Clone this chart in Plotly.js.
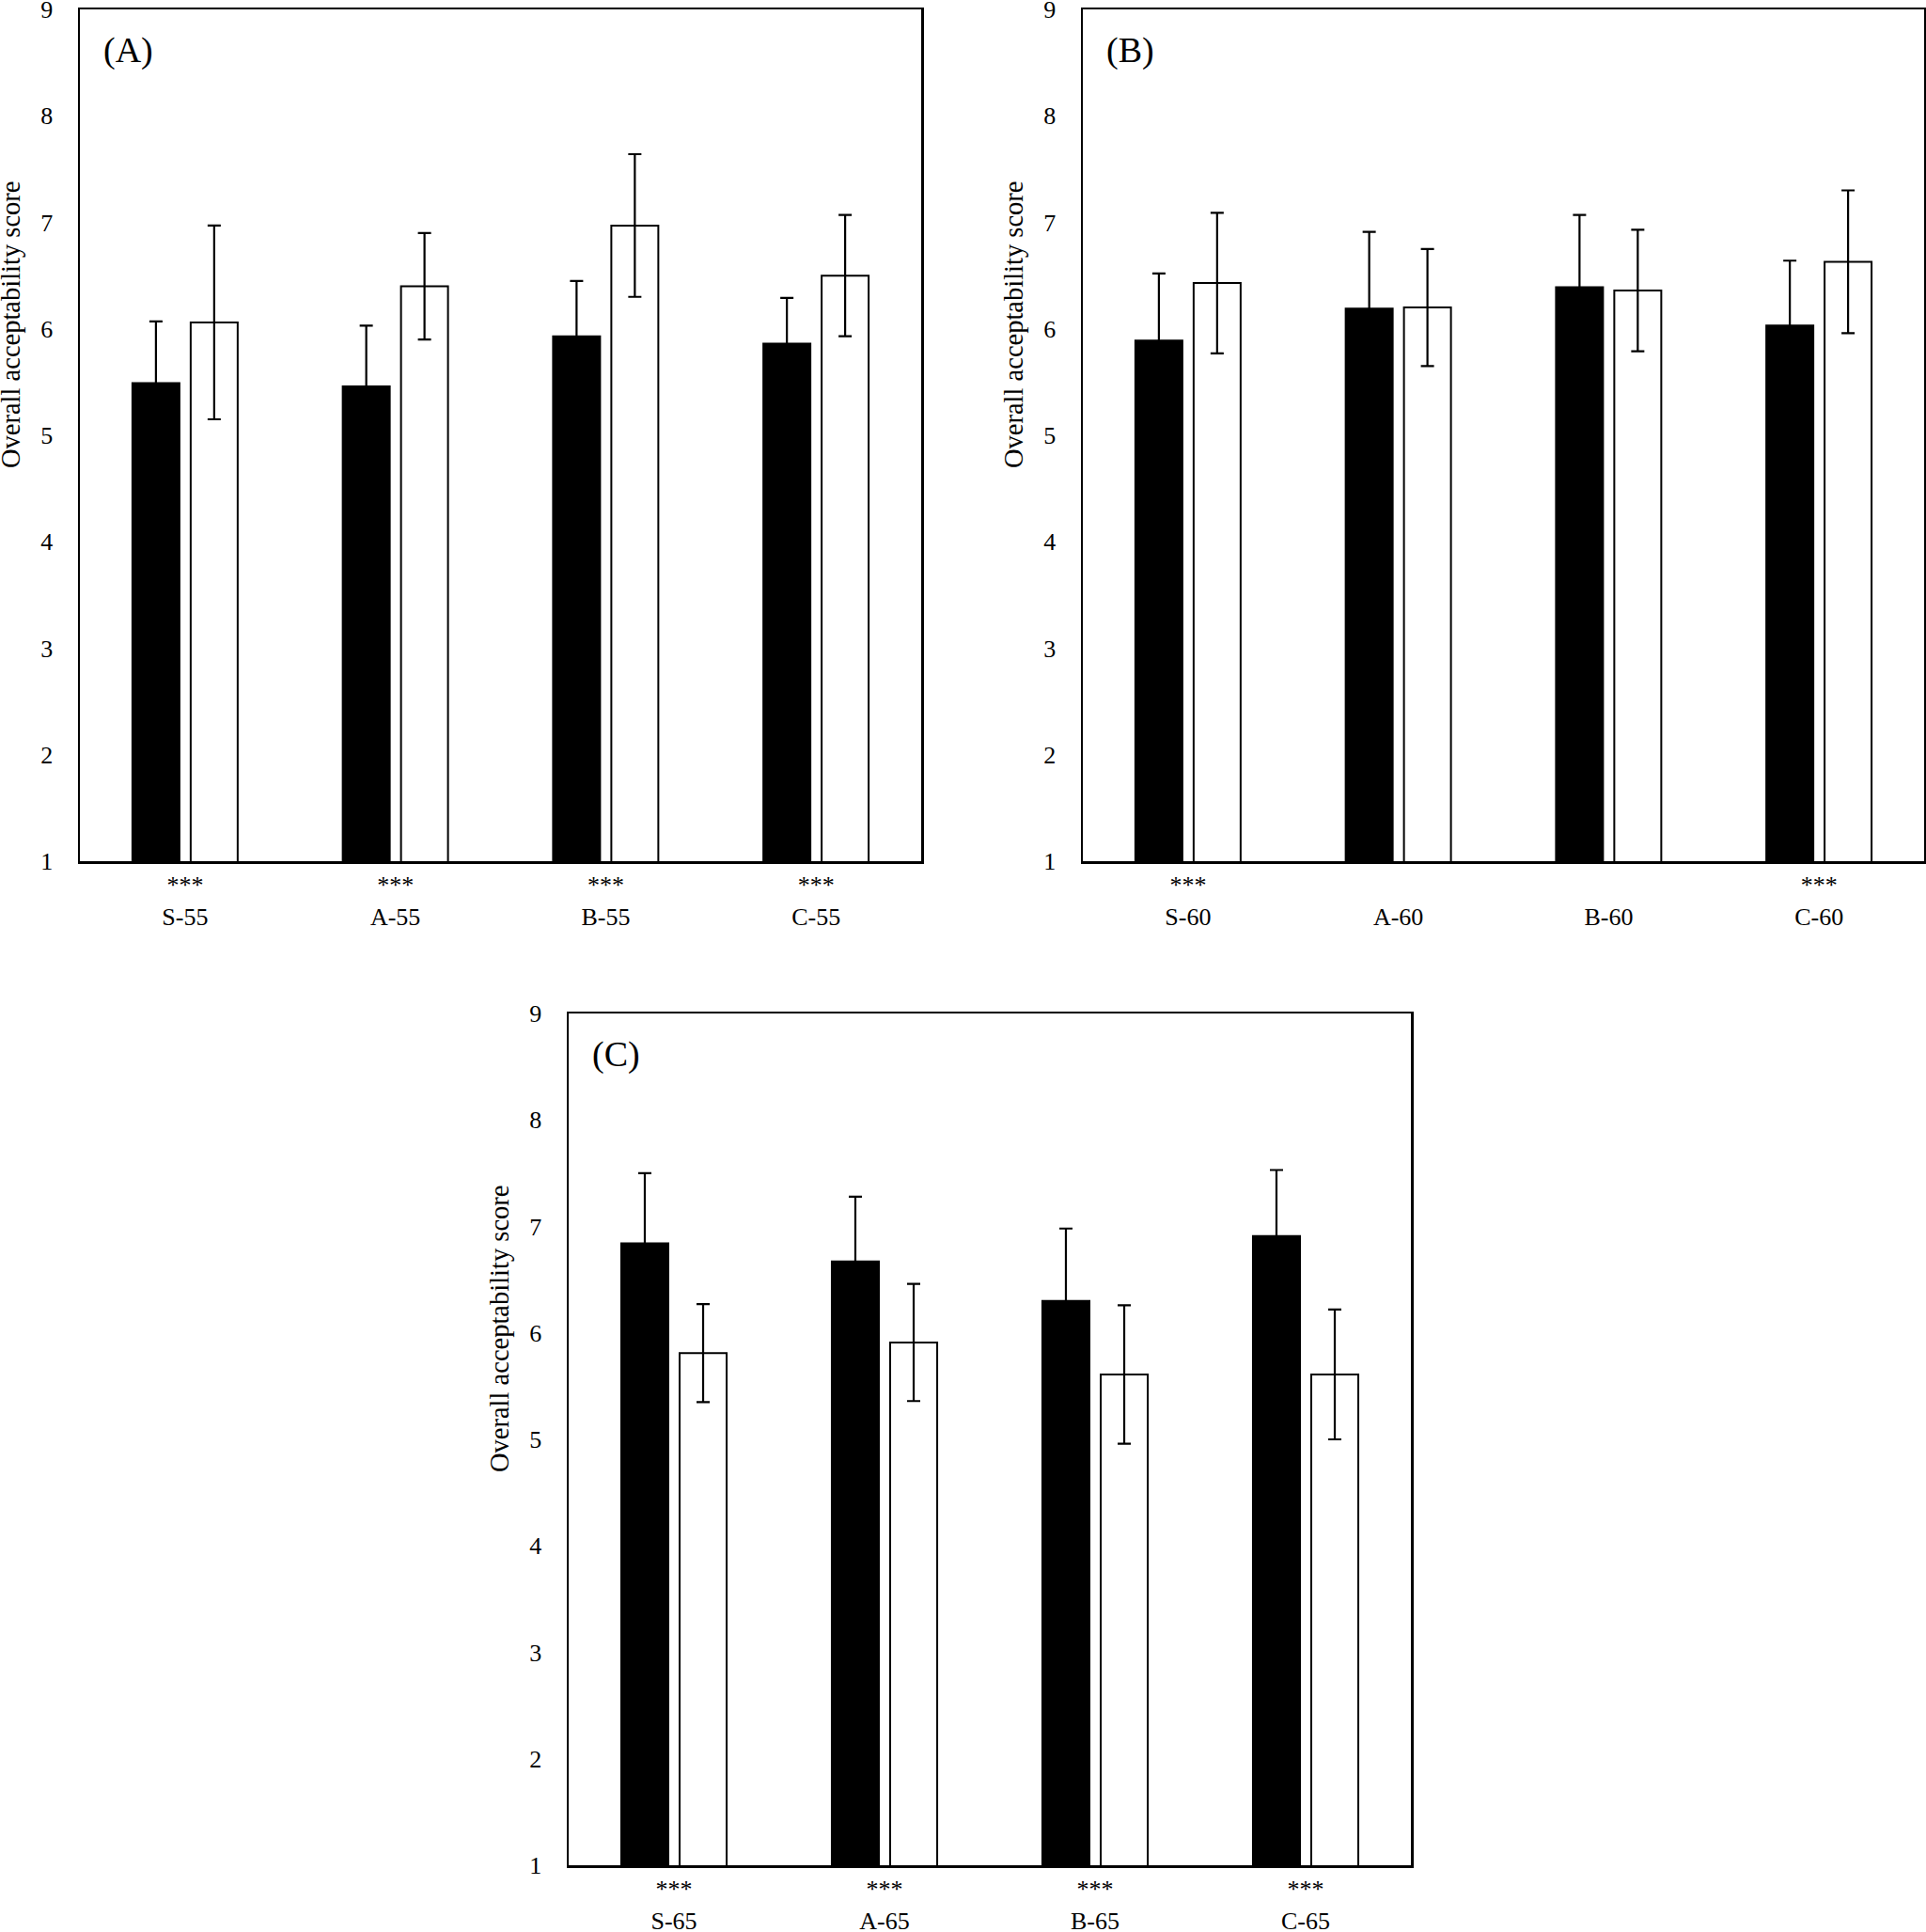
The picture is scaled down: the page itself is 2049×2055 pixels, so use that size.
<!DOCTYPE html>
<html>
<head>
<meta charset="utf-8">
<script src="https://cdn.plot.ly/plotly-3.0.1.min.js"></script>
<style>
  html, body { margin: 0; padding: 0; background: #fff; }
  #chart { width: 2049px; height: 2055px; }
</style>
</head>
<body>
<div id="chart"></div>
<script>
// Sample groups per panel
const categoriesA = ['S-55', 'A-55', 'B-55', 'C-55'];
const categoriesB = ['S-60', 'A-60', 'B-60', 'C-60'];
const categoriesC = ['S-65', 'A-65', 'B-65', 'C-65'];

// Significance markers shown above each group label
const sigA = ['***', '***', '***', '***'];
const sigB = ['***', '', '', '***'];
const sigC = ['***', '***', '***', '***'];

// Mean overall acceptability scores (filled bars) and standard deviations
const blackA = [5.49, 5.46, 5.93, 5.86];
const blackErrA = [0.58, 0.57, 0.52, 0.43];
const blackB = [5.89, 6.19, 6.39, 6.03];
const blackErrB = [0.63, 0.72, 0.68, 0.61];
const blackC = [6.84, 6.67, 6.30, 6.91];
const blackErrC = [0.66, 0.61, 0.68, 0.62];

// Mean overall acceptability scores (open bars) and standard deviations
const whiteA = [6.06, 6.40, 6.97, 6.50];
const whiteErrA = [0.91, 0.50, 0.67, 0.57];
const whiteB = [6.43, 6.20, 6.36, 6.63];
const whiteErrB = [0.66, 0.55, 0.57, 0.67];
const whiteC = [5.81, 5.91, 5.61, 5.61];
const whiteErrC = [0.46, 0.55, 0.65, 0.61];

const panelLabels = ['(A)', '(B)', '(C)'];
const yTitle = 'Overall acceptability score';
const yTicks = [1, 2, 3, 4, 5, 6, 7, 8, 9];

const FONT = 'Liberation Serif, Times New Roman, serif';
const W = 2049, H = 2055;

// Plot-area boxes in pixels: [left, right, top, bottom]
const boxes = [
  [85, 980, 10, 916],
  [1152, 2047, 10, 916],
  [605, 1501, 1078, 1984]
];

const panels = [
  {cats: categoriesA, sig: sigA, b: blackA, be: blackErrA, w: whiteA, we: whiteErrA},
  {cats: categoriesB, sig: sigB, b: blackB, be: blackErrB, w: whiteB, we: whiteErrB},
  {cats: categoriesC, sig: sigC, b: blackC, be: blackErrC, w: whiteC, we: whiteErrC}
];

const traces = [];
const layout = {
  width: W, height: H,
  margin: {l: 0, r: 0, t: 0, b: 0},
  paper_bgcolor: '#ffffff',
  plot_bgcolor: '#ffffff',
  showlegend: false,
  barmode: 'group',
  bargap: 0.446,
  bargroupgap: 0.1935,
  font: {family: FONT, size: 26, color: '#000'},
  annotations: []
};

panels.forEach((p, i) => {
  const n = i === 0 ? '' : String(i + 1);
  const xa = 'x' + n, ya = 'y' + n;
  const [l, r, t, b] = boxes[i];

  traces.push({
    type: 'bar', x: p.cats, y: p.b, xaxis: xa, yaxis: ya,
    marker: {color: '#000', line: {color: '#000', width: 2}},
    error_y: {type: 'data', array: p.be, visible: true, color: '#000', thickness: 2.2, width: 7}
  });
  traces.push({
    type: 'bar', x: p.cats, y: p.w, xaxis: xa, yaxis: ya,
    marker: {color: '#fff', line: {color: '#000', width: 2}},
    error_y: {type: 'data', array: p.we, visible: true, color: '#000', thickness: 2.2, width: 7}
  });

  const axLine = {showline: true, mirror: true, linecolor: '#000', linewidth: 2.5,
                  showgrid: false, zeroline: false, ticks: ''};

  layout['xaxis' + n] = Object.assign({}, axLine, {
    domain: [l / W, r / W],
    anchor: ya,
    type: 'category',
    tickmode: 'array',
    tickvals: p.cats,
    ticktext: p.cats.map((c, k) => (p.sig[k] || ' ') + '<br>' + c),
    tickfont: {family: FONT, size: 26, color: '#000'},
    ticklabeloverflow: 'allow',
    fixedrange: true
  });
  layout['yaxis' + n] = Object.assign({}, axLine, {
    domain: [1 - b / H, 1 - t / H],
    anchor: xa,
    range: [1, 9],
    tickmode: 'array',
    tickvals: yTicks,
    ticktext: yTicks.map(String),
    ticklabelstandoff: 21,
    ticklabeloverflow: 'allow',
    tickfont: {family: FONT, size: 26, color: '#000'},
    fixedrange: true
  });

  // Panel letter
  layout.annotations.push({
    xref: 'paper', yref: 'paper',
    x: (l + 23) / W, y: 1 - (t + 43) / H,
    xanchor: 'left', yanchor: 'middle',
    text: panelLabels[i], showarrow: false,
    font: {family: FONT, size: 38, color: '#000'}
  });
  // Y-axis title
  layout.annotations.push({
    xref: 'paper', yref: 'paper',
    x: (l - 74) / W, y: 1 - (t + 336) / H,
    xanchor: 'center', yanchor: 'middle',
    text: yTitle, textangle: -90, showarrow: false,
    font: {family: FONT, size: 28.5, color: '#000'}
  });
});

Plotly.newPlot('chart', traces, layout, {staticPlot: true});
</script>
</body>
</html>
